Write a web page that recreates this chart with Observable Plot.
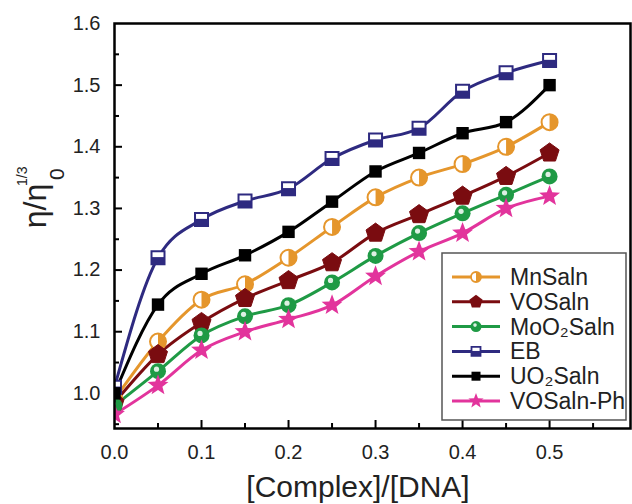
<!DOCTYPE html>
<html>
<head>
<meta charset="utf-8">
<script src="https://cdn.jsdelivr.net/npm/d3@7"></script>
<script src="https://cdn.jsdelivr.net/npm/@observablehq/plot@0.6"></script>
<style>
  body { margin: 0; background: white; }
  #chart svg { display: block; }
</style>
</head>
<body>
<div id="chart"></div>
<script>
// ---- data ----
const ratio = [0, 0.05, 0.10, 0.15, 0.20, 0.25, 0.30, 0.35, 0.40, 0.45, 0.50];
const seriesNames = ["MnSaln", "VOSaln", "MoO2Saln", "EB", "UO2Saln", "VOSaln-Ph"];
const legendLabels = ["MnSaln", "VOSaln", "MoO₂Saln", "EB", "UO₂Saln", "VOSaln-Ph"];
const mnSaln   = [0.990, 1.084, 1.152, 1.177, 1.220, 1.270, 1.318, 1.350, 1.372, 1.400, 1.440];
const voSaln   = [0.985, 1.063, 1.115, 1.154, 1.183, 1.212, 1.260, 1.290, 1.320, 1.352, 1.390];
const moO2Saln = [0.980, 1.036, 1.094, 1.125, 1.143, 1.180, 1.223, 1.260, 1.292, 1.322, 1.352];
const eb       = [1.010, 1.220, 1.282, 1.312, 1.332, 1.381, 1.411, 1.430, 1.490, 1.520, 1.540];
const uo2Saln  = [1.000, 1.144, 1.194, 1.224, 1.262, 1.311, 1.360, 1.390, 1.422, 1.440, 1.500];
const voSalnPh = [0.966, 1.013, 1.070, 1.100, 1.120, 1.143, 1.190, 1.230, 1.260, 1.300, 1.320];
const xMajorTicks = [0.0, 0.1, 0.2, 0.3, 0.4, 0.5];
const xMinorTicks = [0.05, 0.15, 0.25, 0.35, 0.45, 0.55];
const yMajorTicks = [1.0, 1.1, 1.2, 1.3, 1.4, 1.5, 1.6];
const yMinorTicks = [0.95, 1.05, 1.15, 1.25, 1.35, 1.45, 1.55];
const xDomain = [0, 0.593];
const yDomain = [0.943, 1.6];

const colors = {
  "MnSaln": "#e5962c",
  "VOSaln": "#7a0c10",
  "MoO2Saln": "#1f9a45",
  "EB": "#2e2a80",
  "UO2Saln": "#000000",
  "VOSaln-Ph": "#e2349c"
};

const valuesBy = {
  "MnSaln": mnSaln, "VOSaln": voSaln, "MoO2Saln": moO2Saln,
  "EB": eb, "UO2Saln": uo2Saln, "VOSaln-Ph": voSalnPh
};
const table = seriesNames.flatMap(s => ratio.map((r, i) => ({series: s, x: r, y: valuesBy[s][i]})));
const rows = s => table.filter(d => d.series === s);

// ---- custom symbols ----
const rad = size => Math.sqrt(size / Math.PI);
const halfRight = {draw(ctx, size) { const r = rad(size); ctx.moveTo(0, -r); ctx.arc(0, 0, r, -Math.PI / 2, Math.PI / 2); ctx.closePath(); }};
const pentagon = {draw(ctx, size) { const r = rad(size); for (let k = 0; k < 5; k++) { const a = -Math.PI / 2 + k * 2 * Math.PI / 5; const px = r * Math.cos(a), py = r * Math.sin(a); k ? ctx.lineTo(px, py) : ctx.moveTo(px, py); } ctx.closePath(); }};
const squareFull = {draw(ctx, size) { const s = rad(size); ctx.moveTo(-s, -s); ctx.lineTo(s, -s); ctx.lineTo(s, s); ctx.lineTo(-s, s); ctx.closePath(); }};
const squareBottom = {draw(ctx, size) { const s = rad(size); ctx.moveTo(-s, -s * 0.1); ctx.lineTo(s, -s * 0.1); ctx.lineTo(s, s); ctx.lineTo(-s, s); ctx.closePath(); }};
const star = {draw(ctx, size) { const R = rad(size), r = R * 0.42; for (let k = 0; k < 10; k++) { const a = -Math.PI / 2 + k * Math.PI / 5; const rr = k % 2 ? r : R; const px = rr * Math.cos(a), py = rr * Math.sin(a); k ? ctx.lineTo(px, py) : ctx.moveTo(px, py); } ctx.closePath(); }};

const plotH = 504 - 23 - 76, plotW = 630 - 114;

const markersFor = (s) => {
  const d = rows(s);
  const c = colors[s];
  const opt = {x: "x", y: "y", clip: "frame"};
  switch (s) {
    case "MnSaln": return [
      Plot.dot(d, {...opt, r: 8, fill: "white", stroke: c, strokeWidth: 2}),
      Plot.dot(d, {...opt, symbol: halfRight, r: 8, fill: c})
    ];
    case "VOSaln": return [Plot.dot(d, {...opt, symbol: pentagon, r: 10, fill: c, stroke: c, strokeWidth: 1})];
    case "MoO2Saln": return [
      Plot.dot(d, {...opt, r: 8, fill: c}),
      Plot.dot(d, {...opt, r: 2.6, fill: "white", fillOpacity: 0.85, dx: -1.5, dy: -2})
    ];
    case "EB": return [
      Plot.dot(d, {...opt, symbol: squareFull, r: 6.5, fill: "white", stroke: c, strokeWidth: 2}),
      Plot.dot(d, {...opt, symbol: squareBottom, r: 6.5, fill: c})
    ];
    case "UO2Saln": return [Plot.dot(d, {...opt, symbol: squareFull, r: 6.2, fill: c})];
    case "VOSaln-Ph": return [Plot.dot(d, {...opt, symbol: star, r: 11, fill: c})];
  }
};

const svg = Plot.plot({
  width: 632,
  height: 504,
  marginLeft: 114,
  marginTop: 23,
  marginRight: 2,
  marginBottom: 76,
  style: {fontFamily: "'Liberation Sans', Arial, sans-serif", fontSize: "20px", color: "#222", background: "white"},
  x: {domain: xDomain, label: null},
  y: {domain: yDomain, label: null},
  marks: [
    Plot.axisX(xMajorTicks, {tickSize: 0, tickPadding: 16, tickFormat: d3.format(".1f"), fontSize: 20, fill: "#222"}),
    Plot.axisY(yMajorTicks, {tickSize: 0, tickPadding: 14, tickFormat: d3.format(".1f"), fontSize: 20, fill: "#222"}),
    Plot.ruleX(xMajorTicks.slice(1), {stroke: "#000", strokeWidth: 2, insetTop: plotH - 8}),
    Plot.ruleX(xMinorTicks, {stroke: "#000", strokeWidth: 2, insetTop: plotH - 5}),
    Plot.ruleY(yMajorTicks.slice(1, -1), {stroke: "#000", strokeWidth: 2, insetRight: plotW - 8}),
    Plot.ruleY(yMinorTicks, {stroke: "#000", strokeWidth: 2, insetRight: plotW - 5}),
    ...seriesNames.map(s => Plot.line(rows(s), {x: "x", y: "y", stroke: colors[s], strokeWidth: 3, curve: "monotone-x", clip: "frame"})),
    ...seriesNames.flatMap(s => markersFor(s)),
    Plot.frame({stroke: "#000", strokeWidth: 2.5})
  ]
});

document.getElementById("chart").appendChild(svg);

// ---- axis titles ----
const g = d3.select(svg);
const font = "'Liberation Sans', Arial, sans-serif";
g.append("text").attr("transform", "translate(46,206) rotate(-90)")
  .attr("text-anchor", "middle").attr("font-family", font).attr("font-size", 32).attr("fill", "#222")
  .text("η/η");
g.append("text").attr("transform", "translate(64,180) rotate(-90)")
  .attr("text-anchor", "start").attr("font-family", font).attr("font-size", 21).attr("fill", "#222")
  .text("0");
g.append("text").attr("transform", "translate(27,186) rotate(-90)")
  .attr("text-anchor", "start").attr("font-family", font).attr("font-size", 14).attr("fill", "#222")
  .text("1/3");
g.append("text").attr("x", 358).attr("y", 497)
  .attr("text-anchor", "middle").attr("font-family", font).attr("font-size", 30).attr("fill", "#222")
  .text("[Complex]/[DNA]");

// ---- legend ----
const lg = g.append("g").attr("text-anchor", "start");
lg.append("rect").attr("x", 442).attr("y", 253).attr("width", 184).attr("height", 167)
  .attr("fill", "white").attr("stroke", "#555").attr("stroke-width", 1.5);
const sym = (type, size) => d3.symbol(type, size)();
const area = r => r * r * Math.PI;
seriesNames.forEach((s, i) => {
  const cy = 277 + i * 24.8;
  const c = colors[s];
  lg.append("line").attr("x1", 452).attr("x2", 500).attr("y1", cy).attr("y2", cy)
    .attr("stroke", c).attr("stroke-width", 3);
  lg.append("text").attr("x", 510).attr("y", cy + 8).attr("font-family", font)
    .attr("font-size", 23).attr("fill", "#222").attr("text-anchor", "start")
    .text(legendLabels[i]);
  const at = `translate(476,${cy})`;
  if (s === "MnSaln") {
    lg.append("circle").attr("cx", 476).attr("cy", cy).attr("r", 5).attr("fill", "white").attr("stroke", c).attr("stroke-width", 1.8);
    lg.append("path").attr("transform", at).attr("d", sym(halfRight, area(5))).attr("fill", c);
  } else if (s === "VOSaln") {
    lg.append("path").attr("transform", at).attr("d", sym(pentagon, area(7))).attr("fill", c);
  } else if (s === "MoO2Saln") {
    lg.append("circle").attr("cx", 476).attr("cy", cy).attr("r", 5.5).attr("fill", c);
    lg.append("circle").attr("cx", 475).attr("cy", cy - 1.5).attr("r", 1.8).attr("fill", "white").attr("fill-opacity", 0.85);
  } else if (s === "EB") {
    lg.append("path").attr("transform", at).attr("d", sym(squareFull, area(4.5))).attr("fill", "white").attr("stroke", c).attr("stroke-width", 1.8);
    lg.append("path").attr("transform", at).attr("d", sym(squareBottom, area(4.5))).attr("fill", c);
  } else if (s === "UO2Saln") {
    lg.append("path").attr("transform", at).attr("d", sym(squareFull, area(4.5))).attr("fill", c);
  } else {
    lg.append("path").attr("transform", at).attr("d", sym(star, area(8))).attr("fill", c);
  }
});
</script>
</body>
</html>
